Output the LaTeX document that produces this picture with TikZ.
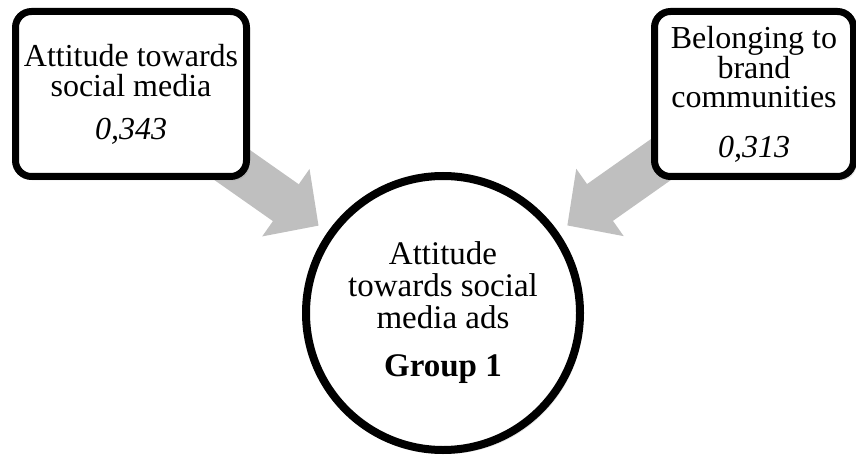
\documentclass[tikz,border=0pt]{standalone}
\usepackage{fontspec}
\setmainfont{Liberation Serif}
\usetikzlibrary{arrows.meta, shadows, backgrounds}

\definecolor{arrowgray}{HTML}{BFBFBF}

\begin{document}
\begin{tikzpicture}[x=1pt, y=-1pt,
	factor/.style={draw, line width=7pt, rounded corners=16pt, fill=white, align=center,
		minimum height=165pt, inner sep=0pt,
		drop shadow={opacity=0.22, shadow xshift=3pt, shadow yshift=-4pt}},
	outcome/.style={draw, circle, line width=8pt, fill=white, align=center,
		minimum size=274pt, inner sep=0pt, font=\fontsize{33}{32}\selectfont,
		drop shadow={opacity=0.22, shadow xshift=3pt, shadow yshift=-4pt}},
	bigarrow/.style={line width=45pt, arrowgray, -{Triangle[width=80pt,length=40pt]}, shorten >=11pt}]
	\useasboundingbox (0,0) rectangle (856,457);
	
	%boxes
	\node[factor, minimum width=231pt, font=\fontsize{32}{30}\selectfont] (media) at (131,94)
		{Attitude towards\\social media\\[13pt]\textit{0,343}};
	\node[factor, minimum width=199pt, font=\fontsize{32}{29}\selectfont] (brand) at (754,94)
		{Belonging to\\brand\\communities\\[21pt]\textit{0,313}};
	\node[outcome] (ads) at (443,313)
		{Attitude\\towards social\\media ads\\[16pt]\textbf{Group 1}};
	
	%arrows
	\begin{scope}[on background layer]
		\draw[bigarrow] (media.center) -- (ads);
		\draw[bigarrow] (brand.center) -- (ads);
	\end{scope}
\end{tikzpicture}
\end{document}
